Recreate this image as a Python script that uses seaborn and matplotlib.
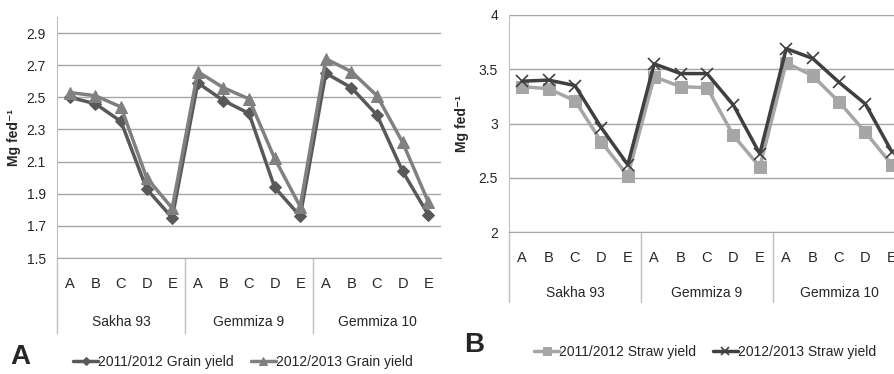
import numpy as np
import pandas as pd
import seaborn as sns
import matplotlib.pyplot as plt

# categories
groups = ["Sakha 93", "Gemmiza 9", "Gemmiza 10"]
treatments = ["A", "B", "C", "D", "E"]

# panel A - grain yield (Mg fed-1)
grain_1112 = [2.50, 2.46, 2.35, 1.93, 1.75,
              2.59, 2.48, 2.40, 1.94, 1.76,
              2.65, 2.56, 2.39, 2.04, 1.77]
grain_1213 = [2.53, 2.51, 2.44, 2.00, 1.81,
              2.66, 2.56, 2.49, 2.12, 1.82,
              2.74, 2.66, 2.51, 2.22, 1.85]

# panel B - straw yield (Mg fed-1)
straw_1112 = [3.34, 3.32, 3.21, 2.83, 2.52,
              3.43, 3.34, 3.33, 2.89, 2.60,
              3.56, 3.44, 3.20, 2.92, 2.62]
straw_1213 = [3.39, 3.40, 3.35, 2.96, 2.62,
              3.55, 3.46, 3.46, 3.17, 2.72,
              3.69, 3.60, 3.38, 3.18, 2.74]

sns.set_style("white")
plt.rcParams['font.family'] = ['Liberation Sans', 'DejaVu Sans']
plt.rcParams['text.color'] = '#262626'

grid_col = "#a6a6a6"
fs = 9.5
x = np.arange(len(groups) * len(treatments))
letters = treatments * len(groups)


def setup_axis(ax, ylim, yticks, cat_depth, letter_pad, group_off):
    ax.set_xlim(-0.5, len(x) - 0.5)
    ax.set_ylim(*ylim)
    ax.set_yticks(yticks)
    ax.set_yticklabels([f"{t:g}" for t in yticks], fontsize=10)
    ax.yaxis.grid(True, color=grid_col, lw=1)
    ax.set_axisbelow(True)
    for s in ["top", "right"]:
        ax.spines[s].set_visible(False)
    ax.spines["left"].set_color("#bfbfbf")
    ax.spines["bottom"].set_color(grid_col)
    ax.tick_params(axis="y", length=0, pad=8, labelcolor="#262626")
    ax.set_xticks(x)
    ax.set_xticklabels(letters, fontsize=10.5)
    ax.tick_params(axis="x", length=0, pad=letter_pad, labelcolor="#262626")
    tr = ax.get_xaxis_transform()
    for b in [-0.5, 4.5, 9.5]:
        ax.plot([b, b], [0, -cat_depth], transform=tr, color="#bfbfbf",
                lw=1, clip_on=False)
    for i, g in enumerate(groups):
        ax.annotate(g, xy=(i * 5 + 2, 0), xycoords=("data", "axes fraction"),
                    xytext=(0, -group_off), textcoords="offset points",
                    ha="center", va="center", fontsize=fs + 0.5)


fig = plt.figure(figsize=(8.95, 3.74), dpi=100)

# ---- panel A
axA = fig.add_axes([57 / 895, 116 / 374, 384 / 895, 241 / 374])
df_a = pd.DataFrame({"x": x, "g1": grain_1112, "g2": grain_1213})
sns.lineplot(data=df_a, x="x", y="g1", ax=axA, color="#595959", lw=2.5,
             marker="D", markersize=6.5, markeredgecolor="#595959",
             label="2011/2012 Grain yield")
sns.lineplot(data=df_a, x="x", y="g2", ax=axA, color="#808080", lw=2.5,
             marker="^", markersize=8, markeredgecolor="#808080",
             label="2012/2013 Grain yield")
setup_axis(axA, (1.5, 3.0), [1.5, 1.7, 1.9, 2.1, 2.3, 2.5, 2.7, 2.9],
           0.311, 14, 46)
axA.set_xlabel("")
axA.set_ylabel("Mg fed⁻¹", fontsize=10, fontweight="bold",
               family=["Liberation Sans", "DejaVu Sans"], labelpad=4)
axA.legend(loc="center", bbox_to_anchor=(243 / 895, 12 / 374),
           bbox_transform=fig.transFigure, ncol=2, frameon=False,
           fontsize=fs + 0.5, handlelength=1.8, columnspacing=1.2,
           handletextpad=0.0, markerscale=0.7)
fig.text(10 / 895, (374 - 357) / 374, "A", fontsize=20, fontweight="bold",
         ha="left", va="center")

# ---- panel B
axB = fig.add_axes([509 / 895, 142 / 374, 396 / 895, 217 / 374])
df_b = pd.DataFrame({"x": x, "s1": straw_1112, "s2": straw_1213})
sns.lineplot(data=df_b, x="x", y="s1", ax=axB, color="#a6a6a6", lw=2.5,
             marker="s", markersize=8, markeredgecolor="#a6a6a6",
             label="2011/2012 Straw yield")
sns.lineplot(data=df_b, x="x", y="s2", ax=axB, color="#404040", lw=2.5,
             marker="x", markersize=9, markeredgewidth=1.2,
             markeredgecolor="#404040", label="2012/2013 Straw yield")
setup_axis(axB, (2, 4), [2, 2.5, 3, 3.5, 4], 0.323, 14, 44)
axB.set_xlabel("")
axB.set_ylabel("Mg fed⁻¹", fontsize=10, fontweight="bold",
               family=["Liberation Sans", "DejaVu Sans"], labelpad=7)
axB.legend(loc="center", bbox_to_anchor=(705 / 895, 22 / 374),
           bbox_transform=fig.transFigure, ncol=2, frameon=False,
           fontsize=fs + 0.5, handlelength=1.8, columnspacing=1.2,
           handletextpad=0.0, markerscale=0.7)
fig.text(464 / 895, (374 - 345) / 374, "B", fontsize=20, fontweight="bold",
         ha="left", va="center")

fig.savefig("out.png", dpi=100)
